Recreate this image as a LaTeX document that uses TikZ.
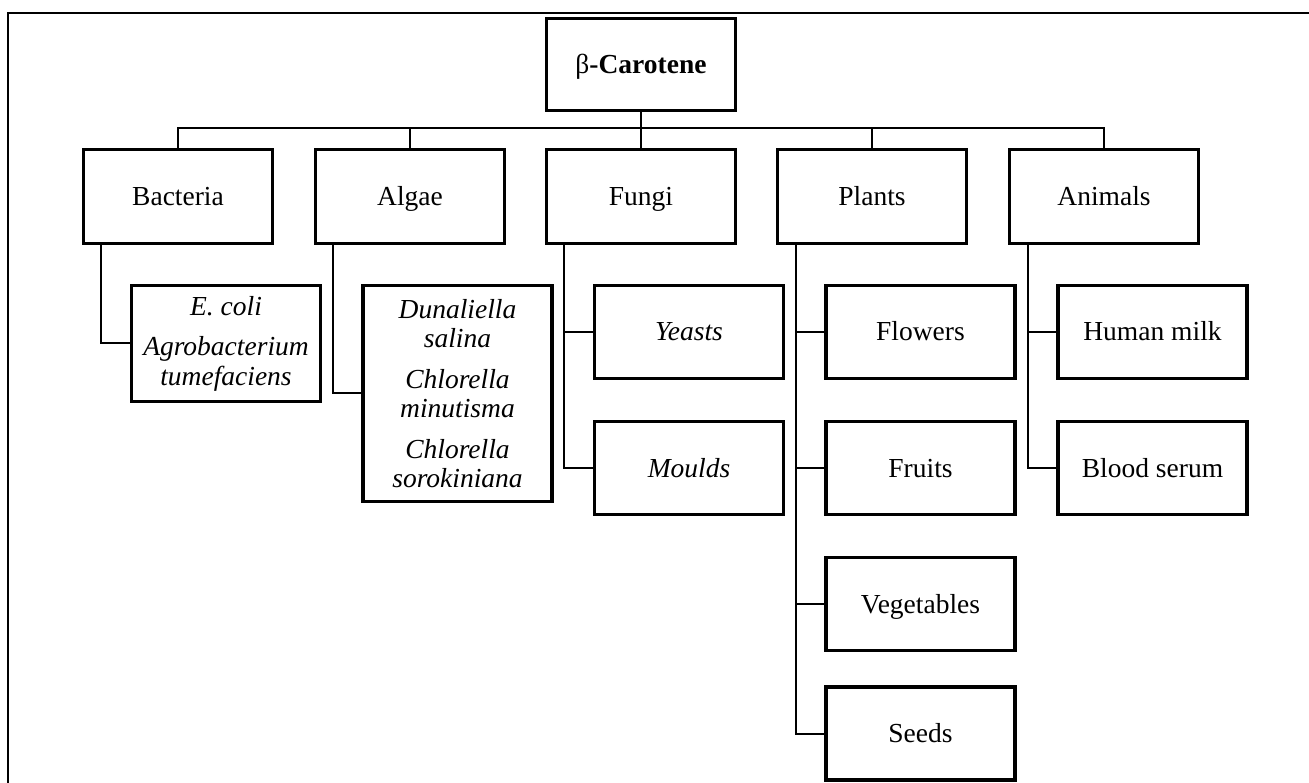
\documentclass[tikz,border=0pt]{standalone}
\usepackage{fontspec}
\setmainfont{Liberation Serif}
\begin{document}
\begin{tikzpicture}[x=1pt,y=-1pt,
  box/.style={draw,line width=3.4pt,rectangle,inner sep=0pt,outer sep=0pt,
    minimum width=189pt,align=center,font=\fontsize{27.5}{29.5}\selectfont},
  one/.style={text height=18pt,text depth=0pt},
  lvl/.style={box,one,minimum height=94pt},
  leaf/.style={box,one,minimum height=93pt},
  conn/.style={line width=2pt}]
\useasboundingbox (0,0) rectangle (1309,783);
\draw[line width=1.5pt] (8,800) -- (8,13) -- (1320,13);
% root
\node[box,one,minimum height=92pt] (root) at (641,64.5) {\textmd{β}\textbf{-Carotene}};
% level 1
\node[lvl] (bac) at (178,196.5) {Bacteria};
\node[lvl] (alg) at (410,196.5) {Algae};
\node[lvl] (fun) at (641,196.5) {Fungi};
\node[lvl] (pla) at (872,196.5) {Plants};
\node[lvl] (ani) at (1104,196.5) {Animals};
% level 2
\node[box,minimum height=116pt] (eco) at (226,343.5) {\itshape E. coli\\[11pt]\itshape Agrobacterium\\\itshape tumefaciens};
\node[box,minimum height=216pt] (dun) at (457.5,393.5) {\itshape Dunaliella\\\itshape salina\\[11pt]\itshape Chlorella\\\itshape minutisma\\[11pt]\itshape Chlorella\\\itshape sorokiniana};
\node[leaf] (yea) at (689,332) {\itshape Yeasts};
\node[leaf] (mou) at (689,468) {\itshape Moulds};
\node[leaf] (flo) at (920.5,332) {Flowers};
\node[leaf] (fru) at (920.5,468) {Fruits};
\node[leaf] (veg) at (920.5,604) {Vegetables};
\node[leaf] (see) at (920.5,733.5) {Seeds};
\node[leaf] (hum) at (1152.5,332) {Human milk};
\node[leaf] (blo) at (1152.5,468) {Blood serum};
% bus
\coordinate (bl) at (178,128);
\coordinate (br) at (1104,128);
\draw[conn] (root.south) -- (root.south |- bl);
\draw[conn] (bac.north) |- (br) -- (ani.north);
\draw[conn] (alg.north) -- (alg.north |- bl);
\draw[conn] (fun.north) -- (fun.north |- bl);
\draw[conn] (pla.north) -- (pla.north |- bl);
% stems
\coordinate (bs) at (101,244);
\coordinate (as) at (333,244);
\coordinate (fs) at (564,244);
\coordinate (ps) at (796,244);
\coordinate (ns) at (1028,244);
\draw[conn] (bs) |- (eco.west);
\draw[conn] (as) |- (dun.west);
\draw[conn] (fs) |- (mou.west);
\draw[conn] (fs |- yea.west) -- (yea.west);
\draw[conn] (ps) |- (see.west);
\draw[conn] (ps |- flo.west) -- (flo.west);
\draw[conn] (ps |- fru.west) -- (fru.west);
\draw[conn] (ps |- veg.west) -- (veg.west);
\draw[conn] (ns) |- (blo.west);
\draw[conn] (ns |- hum.west) -- (hum.west);
\end{tikzpicture}
\end{document}
